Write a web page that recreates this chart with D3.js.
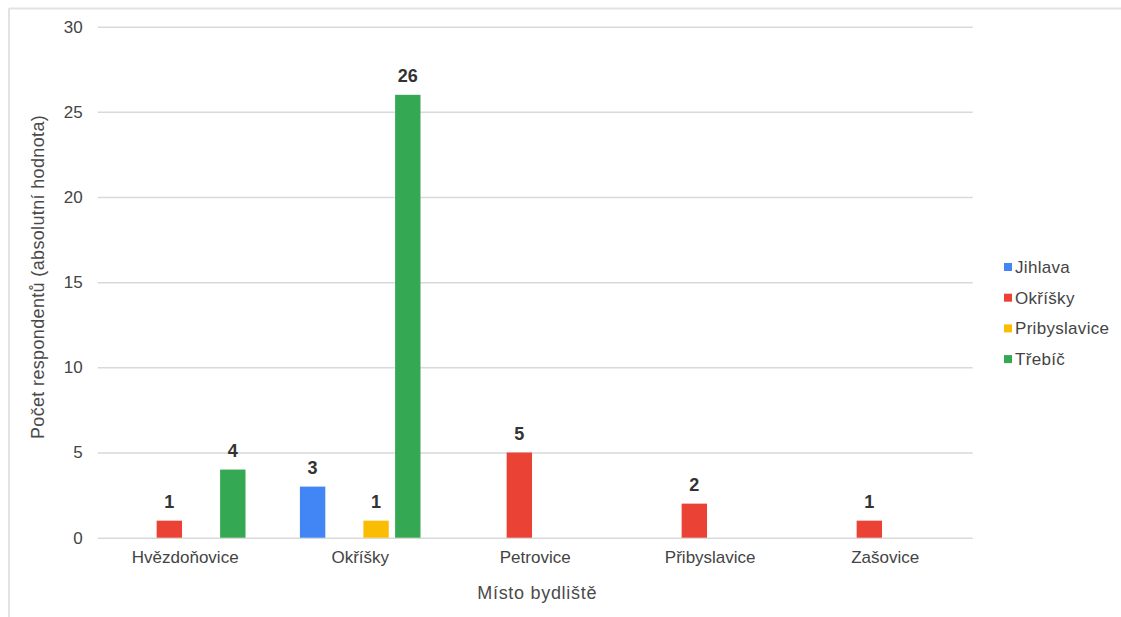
<!DOCTYPE html>
<html>
<head>
<meta charset="utf-8">
<script src="https://cdn.jsdelivr.net/npm/d3@7"></script>
<style>
  html, body { margin: 0; padding: 0; background: #fff; }
  svg { display: block; font-family: "Liberation Sans", Arial, sans-serif; }
</style>
</head>
<body>
<svg id="chart" width="1121" height="617"></svg>
<script>
// Categories (place of residence) and series (school location)
const categories = ["Hvězdoňovice", "Okříšky", "Petrovice", "Přibyslavice", "Zašovice"];
const seriesNames = ["Jihlava", "Okříšky", "Pribyslavice", "Třebíč"];
const seriesColors = ["#4285F4", "#EA4335", "#FBBC04", "#34A853"];

// Respondent counts per series, one value per category (null = no respondents)
const jihlava      = [null, 3, null, null, null];
const okrisky      = [1, null, 5, 2, 1];
const pribyslavice = [null, 1, null, null, null];
const trebic       = [4, 26, null, null, null];

const yTicks = [0, 5, 10, 15, 20, 25, 30];
const xTitle = "Místo bydliště";
const yTitle = "Počet respondentů (absolutní hodnota)";

const seriesValues = [jihlava, okrisky, pribyslavice, trebic];

const svg = d3.select("#chart");

// Frame lines (top and left)
svg.append("line").attr("x1", 9).attr("x2", 1121).attr("y1", 8.5).attr("y2", 8.5)
  .attr("stroke", "#e3e3e3").attr("stroke-width", 2);
svg.append("line").attr("x1", 9).attr("x2", 9).attr("y1", 8).attr("y2", 617)
  .attr("stroke", "#e3e3e3").attr("stroke-width", 2);

const plot = { left: 97.7, right: 972.7, top: 26.7, bottom: 537.7 };

const y = d3.scaleLinear().domain([0, 30]).range([plot.bottom, plot.top]);

const x0 = d3.scaleBand().domain(categories)
  .range([plot.left, plot.right])
  .paddingInner(0.311).paddingOuter(0.1555);

const x1 = d3.scaleBand().domain(seriesNames)
  .range([0, x0.bandwidth()])
  .paddingInner(0.2);

// Gridlines and y tick labels
const yAxis = d3.axisLeft(y).tickValues(yTicks)
  .tickSize(-(plot.right - plot.left)).tickPadding(15);
const gy = svg.append("g").attr("transform", `translate(${plot.left},0)`).call(yAxis);
gy.select(".domain").remove();
gy.selectAll(".tick line").attr("stroke", "#d9d9d9").attr("stroke-width", 1.5);
gy.selectAll(".tick text").attr("fill", "#444").attr("font-size", 17)
  .attr("font-family", "Liberation Sans, Arial, sans-serif");

// X axis labels
const xAxis = d3.axisBottom(x0).tickSize(0).tickPadding(13);
const gx = svg.append("g").attr("transform", `translate(0,${plot.bottom})`).call(xAxis);
gx.select(".domain").remove();
gx.selectAll(".tick text").attr("fill", "#444").attr("font-size", 17)
  .attr("font-family", "Liberation Sans, Arial, sans-serif");

// Bars
const groups = svg.append("g").selectAll("g")
  .data(categories)
  .join("g")
  .attr("transform", d => `translate(${x0(d)},0)`);

const cells = groups.selectAll("g")
  .data((c, ci) => seriesNames.map((s, si) => ({ series: s, si, value: seriesValues[si][ci] }))
    .filter(d => d.value != null))
  .join("g");

cells.append("rect")
  .attr("x", d => x1(d.series))
  .attr("width", x1.bandwidth())
  .attr("y", d => y(d.value))
  .attr("height", d => y(0) - y(d.value))
  .attr("fill", d => seriesColors[d.si]);

cells.append("text")
  .attr("x", d => x1(d.series) + x1.bandwidth() / 2)
  .attr("y", d => y(d.value) - 13)
  .attr("text-anchor", "middle")
  .attr("font-size", 18)
  .attr("font-weight", "bold")
  .attr("fill", "#333")
  .text(d => d.value);

// Axis titles
svg.append("text")
  .attr("x", (plot.left + plot.right) / 2 + 2)
  .attr("y", 599)
  .attr("text-anchor", "middle")
  .attr("font-size", 18)
  .attr("letter-spacing", 0.7)
  .attr("fill", "#4a4a4a")
  .text(xTitle);

svg.append("text")
  .attr("transform", `translate(44,277) rotate(-90)`)
  .attr("text-anchor", "middle")
  .attr("font-size", 18)
  .attr("letter-spacing", 0.35)
  .attr("fill", "#4a4a4a")
  .text(yTitle);

// Legend
const legend = svg.append("g").selectAll("g")
  .data(seriesNames)
  .join("g")
  .attr("transform", (d, i) => `translate(1004,${267 + i * 30.7})`);

legend.append("rect")
  .attr("x", 0).attr("y", -4)
  .attr("width", 8).attr("height", 8)
  .attr("fill", (d, i) => seriesColors[i]);

legend.append("text")
  .attr("x", 11).attr("y", 0)
  .attr("dy", "0.35em")
  .attr("font-size", 17)
  .attr("letter-spacing", 0.3)
  .attr("fill", "#444")
  .text(d => d);
</script>
</body>
</html>
